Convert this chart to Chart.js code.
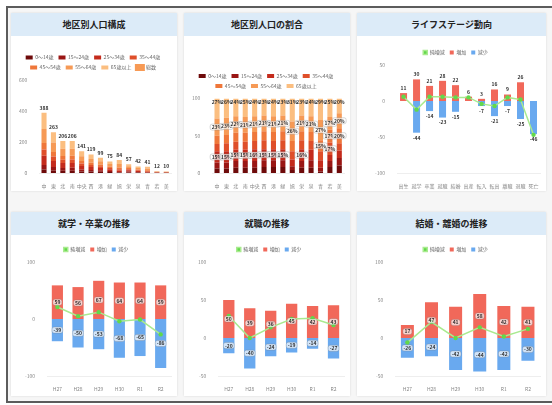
<!DOCTYPE html>
<html>
<head>
<meta charset="utf-8">
<script src="https://cdn.jsdelivr.net/npm/chart.js@4.4.0/dist/chart.umd.min.js"></script>
<style>
  body { margin: 0; width: 552px; height: 405px; background: #fff; overflow: hidden; font-family: "Noto Sans CJK JP", sans-serif; }
  #frame { position: absolute; left: 6px; top: 6px; width: 560px; height: 393px; border: 2px solid #5c5c5c; border-right: none; background: #f6f6f6; }
  .panel { position: absolute; background: #fff; box-shadow: 0 0 2px rgba(0,0,0,0.12); }
  .panel h2 { margin: 0; height: 23px; line-height: 23px; background: #dcebf8; color: #222; font-size: 9px; font-weight: bold; text-align: center; }
  .panel canvas { display: block; }
</style>
</head>
<body>
<div id="frame"></div>

<div class="panel" style="left:11px;top:13px;width:166px;height:178px"><h2>地区別人口構成</h2><canvas id="c1" width="166" height="155"></canvas></div>
<div class="panel" style="left:184px;top:13px;width:166px;height:178px"><h2>地区別人口の割合</h2><canvas id="c2" width="166" height="155"></canvas></div>
<div class="panel" style="left:357px;top:13px;width:189px;height:178px"><h2>ライフステージ動向</h2><canvas id="c3" width="189" height="155"></canvas></div>
<div class="panel" style="left:11px;top:212px;width:166px;height:184px"><h2>就学・卒業の推移</h2><canvas id="c4" width="166" height="161"></canvas></div>
<div class="panel" style="left:184px;top:212px;width:166px;height:184px"><h2>就職の推移</h2><canvas id="c5" width="166" height="161"></canvas></div>
<div class="panel" style="left:357px;top:212px;width:189px;height:184px"><h2>結婚・離婚の推移</h2><canvas id="c6" width="189" height="161"></canvas></div>

<script>
// districts and age groups
const districts = ['中', '東', '北', '南', '中央', '西', '港', '緑', '旭', '栄', '泉', '青', '若', '美'];
const ageGroups = ['0～14歳', '15～24歳', '25～34歳', '35～44歳', '45～54歳', '55～64歳', '65歳以上'];
const ageColors = ['#6e0a0a', '#9a1614', '#c42b1c', '#df4f2a', '#ef773a', '#f69a56', '#fbbe80'];

// population by age group (bottom -> top of stack), people
const popAge0 = [22, 16, 14, 15, 10, 9, 8, 6, 3, 4, 3, 1, 1, 1];
const popAge1 = [30, 22, 18, 19, 13, 11, 9, 7, 4, 5, 4, 2, 1, 1];
const popAge2 = [60, 40, 32, 30, 22, 18, 15, 11, 8, 9, 6, 4, 1, 1];
const popAge3 = [40, 28, 22, 23, 16, 14, 11, 9, 9, 7, 5, 5, 2, 1];
const popAge4 = [42, 30, 24, 25, 17, 14, 12, 9, 12, 7, 5, 6, 2, 2];
const popAge5 = [90, 60, 46, 44, 30, 25, 21, 16, 22, 12, 9, 11, 2, 2];
const popAge6 = [104, 67, 50, 50, 33, 28, 23, 17, 26, 13, 10, 12, 3, 2];
const popTotal = [388, 263, 206, 206, 141, 119, 99, 75, 84, 57, 42, 41, 12, 10];

// share of each age group, percent
const shareAge0 = [6, 6, 7, 7, 7, 8, 8, 8, 4, 7, 7, 2, 8, 10];
const shareAge1 = [8, 8, 9, 9, 9, 9, 9, 9, 5, 9, 10, 5, 8, 10];
const shareAge2 = [15, 15, 15, 15, 16, 15, 15, 15, 9, 16, 14, 10, 8, 10];
const shareAge3 = [10, 11, 11, 11, 11, 12, 11, 12, 11, 12, 12, 12, 17, 10];
const shareAge4 = [11, 11, 12, 12, 12, 12, 12, 12, 14, 12, 12, 15, 17, 20];
const shareAge5 = [23, 23, 22, 21, 21, 21, 21, 21, 26, 21, 21, 27, 17, 20];
const shareAge6 = [27, 26, 24, 25, 24, 23, 24, 23, 31, 23, 24, 29, 25, 20];

// life stage events
const stages = ['出生', '就学', '卒業', '就職', '結婚', '出産', '転入', '転出', '離職', '退職', '死亡'];
const stageIn = [11, 30, 21, 28, 22, 6, 3, 16, 9, 26, 0];
const stageOut = [0, -44, -14, -23, -15, 0, -7, -21, -7, -25, -46];
const stageNet = [6, -12, 6, 6, 5, 5, -4, -7, 5, 2, -47];

// yearly trends
const years = ['H27', 'H28', 'H29', 'H30', 'R1', 'R2'];
const schoolIn = [59, 56, 67, 64, 64, 59];
const schoolOut = [-39, -50, -53, -68, -65, -86];
const schoolNet = [21, 5, 12, -4, -1, -27];
const jobIn = [50, 39, 36, 45, 42, 43];
const jobOut = [-20, -40, -24, -19, -14, -27];
const jobNet = [29, 0, 14, 25, 26, 17];
const marryIn = [17, 47, 41, 58, 42, 41];
const marryOut = [-26, -24, -42, -44, -42, -30];
const marryNet = [-6, 21, 0, 14, 2, 12];

const FONT = '"Noto Sans CJK JP", sans-serif';
const RED = '#f1685a';
const BLUE = '#69a9ef';
const GREEN = '#a9ea8f';

const valueLabels = {
  id: 'valueLabels',
  afterDatasetsDraw(chart) {
    const ctx = chart.ctx;
    ctx.save();
    ctx.textAlign = 'center';
    ctx.textBaseline = 'middle';
    const box = (x, y, text) => {
      const w = ctx.measureText(text).width + 3;
      ctx.fillStyle = 'rgba(255,255,255,0.7)';
      ctx.strokeStyle = 'rgba(120,120,120,0.6)';
      ctx.lineWidth = 0.5;
      ctx.beginPath();
      ctx.roundRect(x - w / 2, y - 3, w, 6, 2);
      ctx.fill();
      ctx.stroke();
      ctx.fillStyle = '#333';
      ctx.fillText(text, x, y);
    };
    chart.data.datasets.forEach((ds, di) => {
      if (!ds.lbl) return;
      const meta = chart.getDatasetMeta(di);
      meta.data.forEach((el, i) => {
        const v = ds.data[i];
        ctx.font = 'bold 5px ' + FONT;
        if (ds.lbl === 'total') {
          ctx.fillStyle = '#333';
          ctx.fillText(String(v), el.x, el.y - 5);
        } else if (ds.lbl === 'share') {
          if (v >= 15) box(el.x, (el.y + el.base) / 2, v + '%');
        } else if (ds.lbl === 'shareTop') {
          ctx.fillStyle = '#333';
          ctx.fillText(v + '%', el.x, el.y + 4);
        } else if (ds.lbl === 'edge') {
          if (v === 0) return;
          ctx.fillStyle = '#333';
          ctx.fillText(String(v), el.x, v > 0 ? el.y - 5 : el.y + 5);
        } else if (ds.lbl === 'center') {
          if (v === 0) return;
          box(el.x, (el.y + el.base) / 2, String(v));
        }
      });
    });
    ctx.restore();
  }
};

function axisX() {
  return {
    stacked: true,
    grid: { display: false },
    border: { color: '#eeeeee' },
    ticks: { font: { size: 5, family: FONT }, color: '#888', padding: 2, maxRotation: 0, autoSkip: false }
  };
}

function axisY(min, max, step) {
  return {
    stacked: true,
    min: min,
    max: max,
    grid: { display: false },
    border: { display: false },
    ticks: { stepSize: step, font: { size: 5, family: FONT }, color: '#888', padding: 4 }
  };
}

function legendOpts(boxW) {
  return {
    position: 'top',
    labels: { font: { size: 5, family: FONT }, color: '#666', boxWidth: boxW, boxHeight: 4, padding: 5 }
  };
}

Chart.register(valueLabels);
Chart.defaults.animation = false;
Chart.defaults.responsive = false;
Chart.defaults.devicePixelRatio = 1;
Chart.defaults.plugins.tooltip.enabled = false;

// 1: population by district
const popSets = [popAge0, popAge1, popAge2, popAge3, popAge4, popAge5, popAge6];
new Chart(document.getElementById('c1'), {
  type: 'bar',
  data: {
    labels: districts,
    datasets: popSets.map((d, k) => ({
      label: ageGroups[k], data: d, backgroundColor: ageColors[k],
      stack: 'pop', categoryPercentage: 0.6, barPercentage: 0.9
    })).concat([{
      type: 'line', label: '総数', data: popTotal, stack: 'total', lbl: 'total',
      showLine: false, pointRadius: 0, borderColor: '#f79a55', backgroundColor: '#f79a55'
    }])
  },
  options: {
    layout: { padding: { top: 14, left: 4, right: 6, bottom: 0 } },
    plugins: { legend: legendOpts(7) },
    scales: { x: axisX(), y: axisY(0, 600, 200) }
  }
});

// 2: share by district
const shareSets = [shareAge0, shareAge1, shareAge2, shareAge3, shareAge4, shareAge5, shareAge6];
new Chart(document.getElementById('c2'), {
  type: 'bar',
  data: {
    labels: districts,
    datasets: shareSets.map((d, k) => ({
      label: ageGroups[k], data: d, backgroundColor: ageColors[k],
      lbl: k === 6 ? 'shareTop' : 'share', categoryPercentage: 0.6, barPercentage: 0.9
    }))
  },
  options: {
    layout: { padding: { top: 14, left: 4, right: 6, bottom: 0 } },
    plugins: { legend: Object.assign(legendOpts(7), { title: { display: true, text: '', padding: 2 } }) },
    scales: { x: axisX(), y: axisY(0, 100, 50) }
  }
});

// 3..6: flow charts with net line
function flowChart(id, labels, inc, dec, net, min, max, step, lbl, pad) {
  new Chart(document.getElementById(id), {
    type: 'bar',
    data: {
      labels: labels,
      datasets: [
        { type: 'line', label: '純増減', data: net, stack: 'net', order: 0,
          borderColor: GREEN, backgroundColor: '#62d94a', borderWidth: 1.5,
          pointRadius: 2.2, pointBorderWidth: 0, pointBackgroundColor: '#62d94a' },
        { label: '増加', data: inc, stack: 'flow', order: 1, backgroundColor: RED, lbl: lbl,
          categoryPercentage: 0.6, barPercentage: 0.9 },
        { label: '減少', data: dec, stack: 'flow', order: 1, backgroundColor: BLUE, lbl: lbl,
          categoryPercentage: 0.6, barPercentage: 0.9 }
      ]
    },
    options: {
      layout: { padding: pad },
      plugins: { legend: legendOpts(4) },
      scales: { x: axisX(), y: axisY(min, max, step) }
    }
  });
}

flowChart('c3', stages, stageIn, stageOut, stageNet, -100, 50, 50, 'edge', { top: 9, left: 14, right: 6, bottom: 0 });
flowChart('c4', years, schoolIn, schoolOut, schoolNet, -100, 100, 100, 'center', { top: 7, left: 10, right: 6, bottom: 2 });
flowChart('c5', years, jobIn, jobOut, jobNet, -50, 100, 50, 'center', { top: 7, left: 10, right: 6, bottom: 2 });
flowChart('c6', years, marryIn, marryOut, marryNet, -50, 100, 50, 'center', { top: 7, left: 14, right: 6, bottom: 2 });
</script>
</body>
</html>
